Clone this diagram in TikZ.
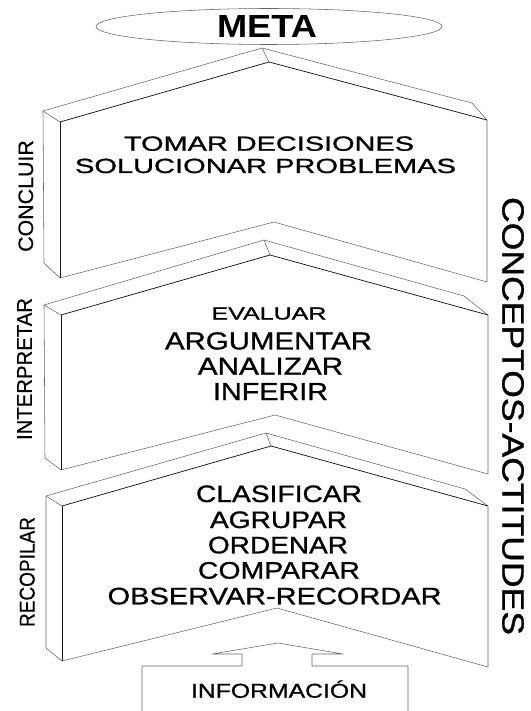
\documentclass[tikz,border=0pt]{standalone}
\usepackage{graphicx}
\usepackage{fontspec}
\usetikzlibrary{shapes.geometric}
\newfontfamily\hv[FakeBold=0.9]{Liberation Sans}
\newfontfamily\hvs[FakeBold=0.5]{Liberation Sans}
\newfontfamily\hvbold{Liberation Sans Bold}
\newcommand\tx[3]{\resizebox{#1pt}{\height}{\fontsize{#2pt}{#2pt}\selectfont #3}}
\begin{document}
\begin{tikzpicture}[x=1pt,y=-1pt,
  back/.style={draw=black!60, line width=0.55pt, line join=round},
  front/.style={draw=black!90, line width=0.75pt, line join=round},
  lbl/.style={inner sep=0pt, font=\hv, text=black},
  side/.style={inner sep=0pt, font=\hvs, text=black},
  base/.style={lbl, anchor=base}]
\useasboundingbox (0,0) rectangle (530,711);
% ---- ellipse META
\node[draw=black!60, line width=0.55pt, ellipse, minimum width=346pt, minimum height=36pt, inner sep=0pt] (goal) at (269,26.5) {};
\node[base] (meta) at (267,38) {\tx{100}{32}{\hvbold META}};
% ---- block 1
\coordinate (aBP) at (262,48);  \coordinate (aFP) at (269,62);
\coordinate (aLB) at (43,111);  \coordinate (aLF) at (60,122);
\coordinate (aRB) at (472,103); \coordinate (aRF) at (487,120);
\coordinate (aLBB) at (44,263); \coordinate (aLFB) at (60,278);
\coordinate (aNP) at (274,222); \coordinate (aRFB) at (487,282);
% ---- block 2
\coordinate (bBP) at (264,240); \coordinate (bFP) at (270,255);
\coordinate (bLB) at (44,305);  \coordinate (bLF) at (61,315);
\coordinate (bRB) at (464,296); \coordinate (bRF) at (488,315);
\coordinate (bLBB) at (45,458); \coordinate (bLFB) at (61,470);
\coordinate (bNP) at (275,415); \coordinate (bRFB) at (488,474);
% ---- block 3
\coordinate (cBP) at (266,433); \coordinate (cFP) at (271,446);
\coordinate (cLB) at (46,496);  \coordinate (cLF) at (62,506);
\coordinate (cRB) at (465,489); \coordinate (cRF) at (488,506);
\coordinate (cLBB) at (46,648); \coordinate (cLFB) at (62,661);
\coordinate (cNP) at (277,608); \coordinate (cRFB) at (488,667);
\foreach \p in {a,b,c}{
  \draw[back] (\p LB) -- (\p BP) -- (\p RB) -- (\p RF);
  \draw[back] (\p LB) -- (\p LF);
  \draw[back] (\p BP) -- (\p FP);
  \draw[back] (\p LB) -- (\p LBB) -- (\p LFB);
  \draw[back] (\p LFB) -- (\p NP) -- (\p RFB) -- (\p RF);
  \draw[front] (\p LF) -- (\p FP) -- (\p RF);
  \draw[front] (\p LF) -- (\p LFB);
}
% ---- information arrow box
\coordinate (iBL) at (142,712); \coordinate (iTL) at (142,666);
\coordinate (iWL) at (242,666); \coordinate (iWLt) at (242,654);
\coordinate (iTipL) at (212,654); \coordinate (iPk) at (278,643);
\coordinate (iTipR) at (343,654); \coordinate (iWRt) at (312,654);
\coordinate (iWR) at (312,666); \coordinate (iTR) at (408,666);
\coordinate (iBR) at (408,712);
\draw[back] (iBL) -- (iTL) -- (iWL) -- (iWLt) -- (iTipL) -- (iPk) -- (iTipR) -- (iWRt) -- (iWR) -- (iTR) -- (iBR);
% ---- texts block 1
\node[base] (t1) at (269,150.7) {\tx{290}{20.5}{TOMAR DECISIONES}};
\node[base] (t2) at (265.5,173) {\tx{381}{20.5}{SOLUCIONAR PROBLEMAS}};
% ---- texts block 2
\node[base] (t3) at (269,319.5) {\tx{115}{17.5}{EVALUAR}};
\node[base] (t4) at (268.5,349.4) {\tx{207}{24.6}{ARGUMENTAR}};
\node[base] (t5) at (270.5,374.7) {\tx{145.5}{24.6}{ANALIZAR}};
\node[base] (t6) at (270.5,400) {\tx{115}{24.6}{INFERIR}};
% ---- texts block 3
\node[base] (t7) at (279,502) {\tx{166}{23.8}{CLASIFICAR}};
\node[base] (t8) at (278.5,528) {\tx{137}{23.8}{AGRUPAR}};
\node[base] (t9) at (278,553.3) {\tx{140}{23.8}{ORDENAR}};
\node[base] (t10) at (279,578.6) {\tx{162}{23.8}{COMPARAR}};
\node[base] (t11) at (274.6,604.3) {\tx{334}{23.8}{OBSERVAR-RECORDAR}};
% ---- info
\node[base] (t12) at (279,697.7) {\tx{176}{20}{INFORMACIÓN}};
% ---- side labels
\node[side, rotate=90] (s1) at (25.8,196) {\tx{111.7}{21}{CONCLUIR}};
\node[side, rotate=90] (s2) at (24.5,369) {\tx{142}{21.5}{INTERPRETAR}};
\node[side, rotate=90] (s3) at (27.2,572) {\tx{110}{21.5}{RECOPILAR}};
\node[lbl, rotate=-90] (s4) at (513,416) {\tx{438}{30.7}{CONCEPTOS-ACTITUDES}};
\end{tikzpicture}
\end{document}
